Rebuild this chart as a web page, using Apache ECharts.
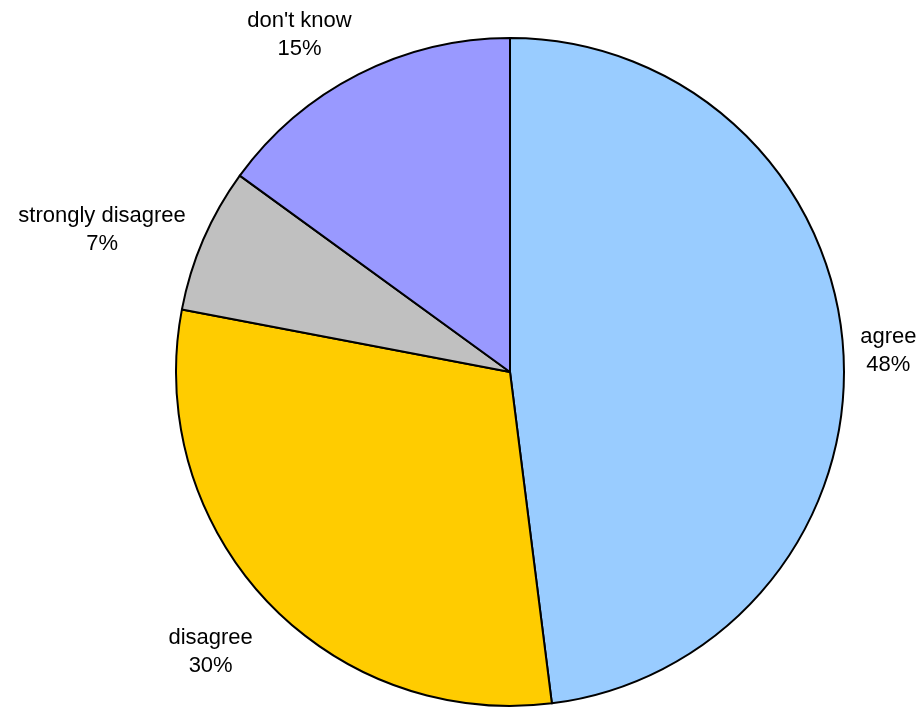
<!DOCTYPE html>
<html><head><meta charset="utf-8">
<script src="https://cdn.jsdelivr.net/npm/echarts@6/dist/echarts.min.js"></script>
<style>html,body{margin:0;padding:0;background:#fff}#c{width:922px;height:708px}</style>
</head><body><div id="c"></div>
<script>
const categories = ['agree', 'disagree', 'strongly disagree', "don't know"];
const values = [48, 30, 7, 15];
const colors = ['#99CCFF', '#FFCC00', '#C0C0C0', '#9999FF'];

const CX = 510, CY = 372, R = 334;
// small per-label nudges reproducing the original label placement
const labelNudge = [[9, 3], [-2, 20], [2, 9], [-17, 2]];
const total = values.reduce((a, b) => a + b, 0);
function midDir(i) {
  let before = 0;
  for (let k = 0; k < i; k++) before += values[k];
  const frac = (before + values[i] / 2) / total;
  const a = frac * Math.PI * 2; // clockwise from 12 o'clock
  return [Math.sin(a), -Math.cos(a)];
}

const chart = echarts.init(document.getElementById('c'), null, {renderer: 'canvas'});
chart.setOption({
  animation: false,
  backgroundColor: '#ffffff',
  series: [{
    type: 'pie',
    center: [CX, CY],
    radius: [0, R],
    startAngle: 90,
    clockwise: true,
    avoidLabelOverlap: false,
    data: categories.map((c, i) => ({name: c, value: values[i], itemStyle: {color: colors[i]}})),
    itemStyle: {borderColor: '#000', borderWidth: 2},
    label: {
      show: true,
      position: 'outside',
      formatter: '{b}\n{d}%',
      fontFamily: 'Liberation Sans, Arial, sans-serif',
      fontSize: 22,
      lineHeight: 28,
      color: '#000',
      distanceToLabelLine: 0
    },
    labelLine: {show: false, length: 20, length2: 0},
    labelLayout: function (p) {
      const r = p.labelRect;
      const d = midDir(p.dataIndex);
      const n = labelNudge[p.dataIndex];
      const rr = R + 18;
      const x = CX + d[0] * rr + d[0] * r.width / 2 - 10 + n[0];
      const y = CY + d[1] * rr + d[1] * r.height / 2 + n[1];
      return {x: x, y: y, align: 'center', verticalAlign: 'middle'};
    },
    emphasis: {disabled: true}
  }]
});
</script></body></html>
